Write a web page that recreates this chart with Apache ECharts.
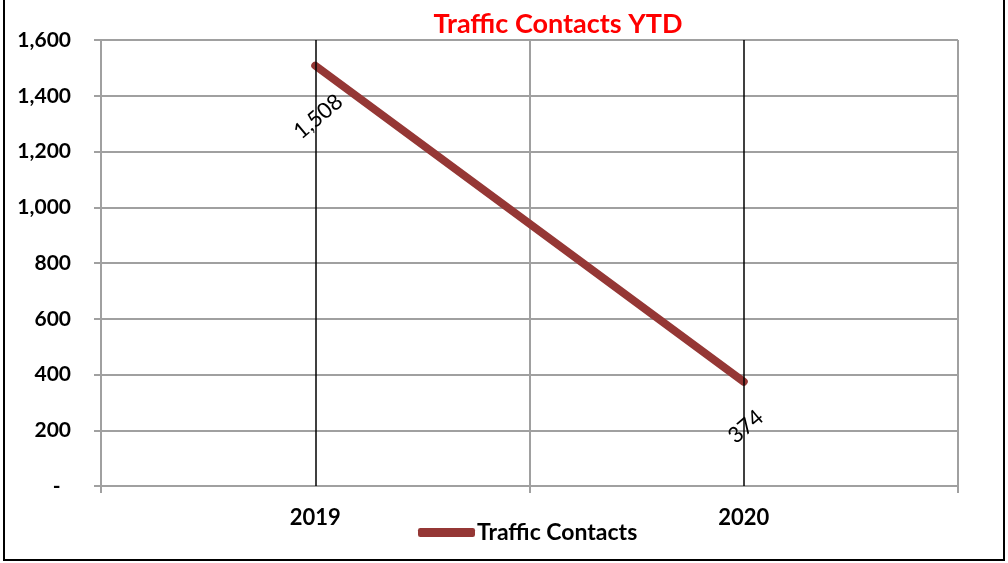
<!DOCTYPE html>
<html>
<head>
<meta charset="utf-8">
<script src="https://cdn.jsdelivr.net/npm/echarts@6/dist/echarts.min.js"></script>
<style>
  html, body { margin: 0; padding: 0; background: #fff; }
  #chart { width: 1008px; height: 563px; }
</style>
</head>
<body>
<div id="chart"></div>
<script>
// Yearly traffic contacts, year to date
const years = ['2019', '2020'];
const trafficContacts = [1508, 374];
const seriesName = 'Traffic Contacts';
const chartTitle = 'Traffic Contacts YTD';

const FONT = 'Lato';
const GRID_GRAY = '#a0a0a0';
const LINE_RED = '#953735';

// rotated value labels: angle and on-screen shift below each point
const LABEL_ANGLE = 40;
const labelShifts = [[3, 51], [2, 45]];

// ECharts applies a label's offset in its rotated frame, so turn the
// on-screen shift back by the label angle
function rotatedOffset([dx, dy], deg) {
  const t = deg * Math.PI / 180;
  return [dx * Math.cos(t) - dy * Math.sin(t), dx * Math.sin(t) + dy * Math.cos(t)];
}

const chart = echarts.init(document.getElementById('chart'), null, { renderer: 'canvas' });

// accounting-style tick labels: zero shows as a dash
const fmtThousands = v => v === 0 ? '-\u2002' : v.toLocaleString('en-US');

chart.setOption({
  animation: false,
  backgroundColor: '#fff',
  title: {
    text: chartTitle,
    left: 553,
    textAlign: 'center',
    top: 6,
    textStyle: { color: '#ff0000', fontFamily: FONT, fontWeight: 'bold', fontSize: 27 }
  },
  legend: {
    left: 413,
    top: 516,
    itemWidth: 57,
    itemHeight: 9,
    icon: 'roundRect',
    itemGap: 10,
    itemStyle: { color: LINE_RED, opacity: 1 },
    textStyle: { color: '#000', fontFamily: FONT, fontWeight: 'bold', fontSize: 23, padding: [0, 0, 0, -3] },
    data: [{ name: seriesName }]
  },
  grid: { left: 101, right: 50, top: 40, bottom: 77, containLabel: false },
  xAxis: {
    type: 'category',
    data: years,
    boundaryGap: true,
    axisLine: { show: true, lineStyle: { color: GRID_GRAY, width: 2 } },
    axisTick: { show: true, length: 7, lineStyle: { color: GRID_GRAY, width: 2 } },
    splitLine: { show: true, interval: 0, lineStyle: { color: GRID_GRAY, width: 2 } },
    axisLabel: { color: '#000', fontFamily: FONT, fontWeight: 'bold', fontSize: 22, margin: 21 }
  },
  yAxis: {
    type: 'value',
    min: 0,
    max: 1600,
    interval: 200,
    axisLine: { show: true, lineStyle: { color: GRID_GRAY, width: 2 } },
    axisTick: { show: true, length: 7, lineStyle: { color: GRID_GRAY, width: 2 } },
    splitLine: { show: true, lineStyle: { color: GRID_GRAY, width: 2 } },
    axisLabel: {
      color: '#000', fontFamily: FONT, fontWeight: 'bold', fontSize: 21, margin: 30,
      formatter: fmtThousands
    }
  },
  series: [{
    name: seriesName,
    type: 'line',
    data: trafficContacts.map((v, i) => ({
      value: v,
      label: { offset: rotatedOffset(labelShifts[i], LABEL_ANGLE) }
    })),
    symbol: 'circle',
    symbolSize: 2,
    showSymbol: true,
    lineStyle: { color: LINE_RED, width: 8, cap: 'round' },
    itemStyle: { color: LINE_RED },
    label: {
      show: true,
      position: 'inside',
      rotate: LABEL_ANGLE,
      align: 'center',
      verticalAlign: 'middle',
      color: '#000',
      fontFamily: FONT,
      fontSize: 22,
      formatter: p => p.value.toLocaleString('en-US')
    },
    markLine: {
      silent: true,
      symbol: 'none',
      label: { show: false },
      lineStyle: { color: '#000', width: 1.5, type: 'solid' },
      data: years.map(y => ({ xAxis: y }))
    },
    z: 3
  }],
  graphic: [{
    type: 'rect',
    shape: { x: 4, y: -5, width: 1000, height: 565 },
    style: { fill: 'none', stroke: '#000', lineWidth: 2 },
    silent: true
  }]
});
</script>
</body>
</html>
